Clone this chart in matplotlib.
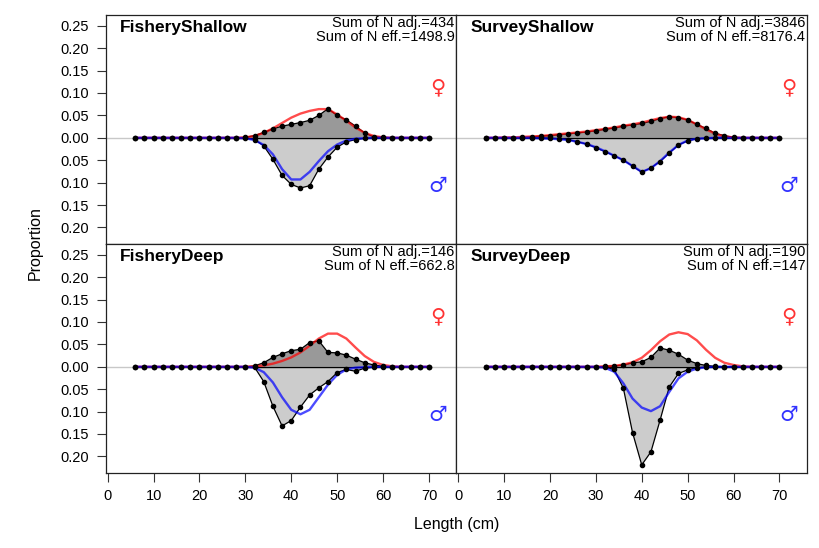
import matplotlib
matplotlib.use("Agg")
import matplotlib.pyplot as plt
from matplotlib.ticker import FuncFormatter
import numpy as np

plt.rcParams["font.family"] = ["Liberation Sans", "DejaVu Sans"]

# length bins (cm)
length_bins = [6, 8, 10, 12, 14, 16, 18, 20, 22, 24, 26,
               28, 30, 32, 34, 36, 38, 40, 42, 44, 46, 48,
               50, 52, 54, 56, 58, 60, 62, 64, 66, 68, 70]

fleet_names = ["FisheryShallow", "SurveyShallow", "FisheryDeep", "SurveyDeep"]
n_adj = ["434", "3846", "146", "190"]
n_eff = ["1498.9", "8176.4", "662.8", "147"]

# FisheryShallow
fs_f_obs = [0, 0, 0, 0, 0, 0, 0, 0, 0, 0, 0,
            0, 0.001, 0.005, 0.012, 0.020, 0.026, 0.030, 0.034, 0.039, 0.050, 0.065,
            0.050, 0.040, 0.026, 0.011, 0.002, 0.001, 0, 0, 0, 0, 0]
fs_f_exp = [0, 0, 0, 0, 0, 0, 0, 0, 0, 0, 0,
            0, 0.001, 0.004, 0.011, 0.021, 0.033, 0.045, 0.054, 0.060, 0.064, 0.064,
            0.052, 0.038, 0.023, 0.011, 0.004, 0.001, 0, 0, 0, 0, 0]
fs_m_obs = [0, 0, 0, 0, 0, 0, 0, 0, 0, 0, 0,
            0, 0.001, 0.004, 0.018, 0.048, 0.084, 0.104, 0.112, 0.107, 0.070, 0.043,
            0.021, 0.009, 0.004, 0.001, 0, 0, 0, 0, 0, 0, 0]
fs_m_exp = [0, 0, 0, 0, 0, 0, 0, 0, 0, 0, 0,
            0, 0.001, 0.005, 0.016, 0.037, 0.070, 0.093, 0.093, 0.076, 0.052, 0.030,
            0.015, 0.006, 0.002, 0.001, 0, 0, 0, 0, 0, 0, 0]

# SurveyShallow
ss_f_obs = [0, 0, 0, 0, 0.001, 0.002, 0.004, 0.005, 0.007, 0.009, 0.011,
            0.013, 0.016, 0.019, 0.022, 0.026, 0.029, 0.032, 0.037, 0.043, 0.047, 0.045,
            0.040, 0.030, 0.021, 0.010, 0.005, 0.001, 0, 0, 0, 0, 0]
ss_f_exp = [0, 0, 0.001, 0.001, 0.002, 0.003, 0.004, 0.006, 0.008, 0.010, 0.012,
            0.014, 0.017, 0.020, 0.023, 0.027, 0.030, 0.034, 0.039, 0.044, 0.047, 0.046,
            0.040, 0.030, 0.019, 0.009, 0.003, 0.001, 0, 0, 0, 0, 0]
ss_m_obs = [0, 0, 0, 0, 0, 0, 0, 0.001, 0.002, 0.004, 0.009,
            0.014, 0.022, 0.031, 0.040, 0.050, 0.063, 0.077, 0.067, 0.053, 0.034, 0.016,
            0.007, 0.002, 0.001, 0, 0, 0, 0, 0, 0, 0, 0]
ss_m_exp = [0, 0, 0, 0, 0, 0, 0.001, 0.002, 0.003, 0.005, 0.009,
            0.014, 0.021, 0.030, 0.040, 0.050, 0.063, 0.076, 0.068, 0.052, 0.033, 0.016,
            0.006, 0.002, 0.001, 0, 0, 0, 0, 0, 0, 0, 0]

# FisheryDeep
fd_f_obs = [0, 0, 0, 0, 0, 0, 0, 0, 0, 0, 0,
            0, 0, 0.002, 0.009, 0.021, 0.029, 0.036, 0.039, 0.054, 0.058, 0.032,
            0.031, 0.026, 0.017, 0.009, 0.004, 0.001, 0, 0, 0, 0, 0]
fd_f_exp = [0, 0, 0, 0, 0, 0, 0, 0, 0, 0, 0,
            0, 0, 0.001, 0.003, 0.007, 0.013, 0.021, 0.032, 0.047, 0.063, 0.074,
            0.074, 0.063, 0.043, 0.024, 0.011, 0.004, 0.001, 0, 0, 0, 0]
fd_m_obs = [0, 0, 0, 0, 0, 0, 0, 0, 0, 0, 0,
            0, 0, 0.001, 0.033, 0.088, 0.132, 0.120, 0.090, 0.063, 0.047, 0.033,
            0.013, 0.006, 0.010, 0.003, 0.001, 0, 0, 0, 0, 0, 0]
fd_m_exp = [0, 0, 0, 0, 0, 0, 0, 0, 0, 0, 0,
            0, 0, 0.002, 0.012, 0.035, 0.068, 0.096, 0.106, 0.096, 0.068, 0.040,
            0.018, 0.006, 0.002, 0.001, 0, 0, 0, 0, 0, 0, 0]

# SurveyDeep
sd_f_obs = [0, 0, 0, 0, 0, 0, 0, 0, 0, 0, 0,
            0, 0, 0.001, 0.002, 0.004, 0.009, 0.011, 0.021, 0.042, 0.037, 0.028,
            0.015, 0.007, 0.003, 0.001, 0, 0, 0, 0, 0, 0, 0]
sd_f_exp = [0, 0, 0, 0, 0, 0, 0, 0, 0, 0, 0,
            0, 0, 0.001, 0.002, 0.005, 0.010, 0.020, 0.037, 0.057, 0.072, 0.077,
            0.073, 0.059, 0.038, 0.020, 0.009, 0.004, 0.001, 0, 0, 0, 0]
sd_m_obs = [0, 0, 0, 0, 0, 0, 0, 0, 0, 0, 0,
            0, 0, 0.001, 0.006, 0.048, 0.147, 0.219, 0.190, 0.119, 0.045, 0.015,
            0.007, 0.002, 0.001, 0, 0, 0, 0, 0, 0, 0, 0]
sd_m_exp = [0, 0, 0, 0, 0, 0, 0, 0, 0, 0, 0,
            0, 0, 0.002, 0.011, 0.037, 0.071, 0.091, 0.099, 0.088, 0.056, 0.026,
            0.011, 0.004, 0.001, 0, 0, 0, 0, 0, 0, 0, 0]

female_obs = [fs_f_obs, ss_f_obs, fd_f_obs, sd_f_obs]
female_exp = [fs_f_exp, ss_f_exp, fd_f_exp, sd_f_exp]
male_obs = [fs_m_obs, ss_m_obs, fd_m_obs, sd_m_obs]
male_exp = [fs_m_exp, ss_m_exp, fd_m_exp, sd_m_exp]

y_ticks = [-0.20, -0.15, -0.10, -0.05, 0.0, 0.05, 0.10, 0.15, 0.20, 0.25]
x_ticks = [0, 10, 20, 30, 40, 50, 60, 70]

fem_col = (1, 0, 0, 0.7)
male_col = (0, 0, 1, 0.7)

fig, axes = plt.subplots(2, 2, figsize=(8.2, 5.48), dpi=100, sharex=True, sharey=True)
fig.subplots_adjust(left=0.1293, right=0.9841, bottom=0.1369, top=0.9726,
                    wspace=0, hspace=0)

x = np.array(length_bins)
for k, ax in enumerate(axes.flat):
    f_obs = np.array(female_obs[k])
    f_exp = np.array(female_exp[k])
    m_obs = -np.array(male_obs[k])
    m_exp = -np.array(male_exp[k])

    ax.axhline(0, color="#c8c8c8", lw=1.0, zorder=1)
    ax.fill_between(x, 0, f_obs, facecolor="#999999", edgecolor="none", zorder=2)
    ax.fill_between(x, 0, m_obs, facecolor="#cccccc", edgecolor="none", zorder=2)
    ax.plot(x, np.zeros_like(x), color="black", lw=1.0, zorder=3)
    ax.plot(x, f_obs, color="black", lw=0.9, zorder=3)
    ax.plot(x, m_obs, color="black", lw=0.9, zorder=3)
    ax.plot(x, f_exp, color=fem_col, lw=1.7, zorder=4)
    ax.plot(x, m_exp, color=male_col, lw=1.7, zorder=4)
    ax.plot(x, f_obs, "o", color="black", ms=3.0, zorder=5)
    ax.plot(x, m_obs, "o", color="black", ms=3.0, zorder=5)

    ax.text(0.04, 0.978, fleet_names[k], transform=ax.transAxes,
            fontsize=12.5, fontweight="bold", ha="left", va="top")
    ax.text(0.995, 0.995, f"Sum of N adj.={n_adj[k]}\nSum of N eff.={n_eff[k]}",
            transform=ax.transAxes, fontsize=10.5, ha="right", va="top",
            linespacing=0.95)
    ax.text(72, 0.113, "\u2640", color=(1, 0, 0, 0.8), fontsize=15,
            ha="center", va="center", family=["DejaVu Sans"])
    ax.text(72, -0.108, "\u2642", color=(0, 0, 1, 0.8), fontsize=15,
            ha="center", va="center", family=["DejaVu Sans"])

    ax.set_xlim(-0.36, 76.0)
    ax.set_ylim(-0.237, 0.274)
    ax.set_yticks(y_ticks)
    ax.set_xticks(x_ticks)
    ax.yaxis.set_major_formatter(FuncFormatter(lambda v, p: f"{abs(v):.2f}"))
    ax.tick_params(direction="out", length=6.5, width=0.8, labelsize=10.5,
                   color="#333333")
    ax.tick_params(axis="y", pad=6)
    ax.tick_params(axis="x", pad=5)
    for sp in ax.spines.values():
        sp.set_linewidth(0.9)
        sp.set_color("#222222")

    if k % 2 == 1:
        ax.tick_params(axis="y", left=False, labelleft=False)
    if k < 2:
        ax.tick_params(axis="x", bottom=False, labelbottom=False)
    else:
        ax.tick_params(axis="x", labelbottom=True)

fig.text(0.557, 0.042, "Length (cm)", ha="center", va="center", fontsize=11.5)
fig.text(0.043, 0.5566, "Proportion", ha="center", va="center",
         rotation=90, fontsize=11.5)

fig.savefig("out.png", dpi=100)
